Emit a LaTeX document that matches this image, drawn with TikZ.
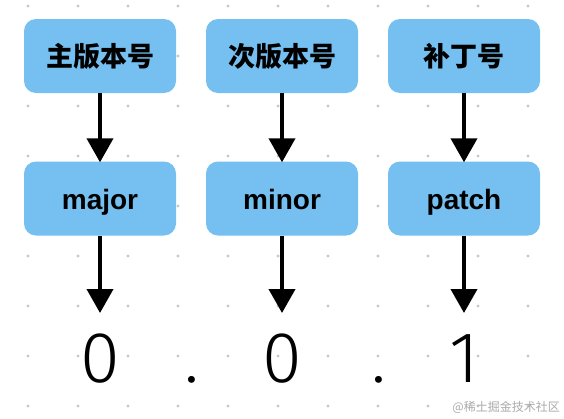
\documentclass[tikz,border=0pt]{standalone}
\usepackage{fontspec}
\usetikzlibrary{arrows.meta}
\newfontfamily\cjk{Noto Sans CJK SC}
\newfontfamily\latinb{Liberation Sans}
\newfontfamily\lightf{Fira Sans Light}
\definecolor{boxblue}{RGB}{117,192,240}
\definecolor{griddot}{RGB}{200,200,200}
\definecolor{wmgray}{RGB}{170,170,170}
\tikzset{
  vbox/.style={rectangle, rounded corners=12pt, fill=boxblue, minimum width=152pt, minimum height=74pt, inner sep=0pt, font=\cjk\bfseries\fontsize{27pt}{27pt}\selectfont},
  ebox/.style={vbox, text height=26pt, text depth=5pt, font=\latinb\bfseries\fontsize{28pt}{28pt}\selectfont},
  digit/.style={inner sep=0pt, anchor=base, font=\lightf\fontsize{72pt}{72pt}\selectfont},
  arr/.style={line width=4pt, -{Triangle[width=26pt,length=24pt]}, shorten >=-1pt}
}
\begin{document}
\begin{tikzpicture}[x=1pt,y=-1pt]
\useasboundingbox (0,0) rectangle (564,418);
\fill[white] (0,0) rectangle (564,418);
\foreach \i in {0,...,10} {
  \foreach \j in {0,...,8} {
    \fill[griddot] (28+50*\i, 6+50*\j) circle (1.6pt);
  }
}
\node[vbox] (b1) at (100,56) {主版本号};
\node[vbox] (b2) at (282,56) {次版本号};
\node[vbox] (b3) at (464,56) {补丁号};
\node[ebox] (m1) at (100,198.5) {major};
\node[ebox] (m2) at (282,198.5) {minor};
\node[ebox] (m3) at (464,198.5) {patch};
\node[digit] (d1) at (100,382) {0};
\node[digit] (d2) at (282,382) {0};
\node[digit] (d3) at (464,382) {1};
\node[digit] (p1) at (192,382) {.};
\node[digit] (p2) at (379,382) {.};
\draw[arr] (b1) -- (m1);
\draw[arr] (b2) -- (m2);
\draw[arr] (b3) -- (m3);
\coordinate (t1) at (100,312);
\coordinate (t2) at (282,312);
\coordinate (t3) at (464,312);
\draw[arr] (m1) -- (t1);
\draw[arr] (m2) -- (t2);
\draw[arr] (m3) -- (t3);
\node[anchor=east, text=wmgray, font=\cjk\fontsize{12pt}{12pt}\selectfont, inner sep=0pt] (wm) at (560,407) {@稀土掘金技术社区};
\end{tikzpicture}
\end{document}
